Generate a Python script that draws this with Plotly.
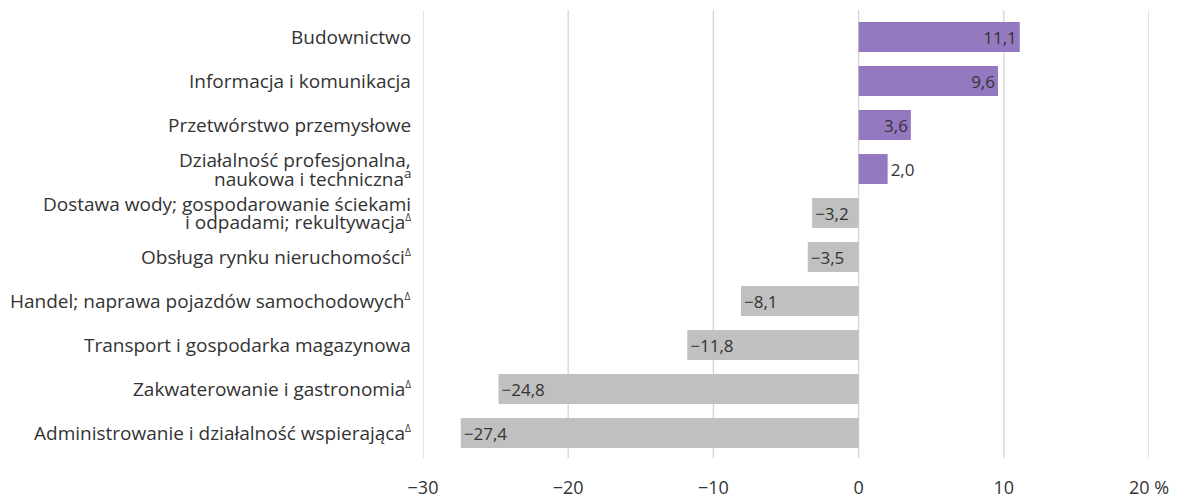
import plotly.graph_objects as go

DELTA = "<sup><span style='font-size:10px'>Δ</span></sup>"
categories = [
    "Budownictwo",
    "Informacja i komunikacja",
    "Przetwórstwo przemysłowe",
    "Działalność profesjonalna,<br>naukowa i techniczna<sup>a</sup>",
    "Dostawa wody; gospodarowanie ściekami<br>i odpadami; rekultywacja" + DELTA,
    "Obsługa rynku nieruchomości" + DELTA,
    "Handel; naprawa pojazdów samochodowych" + DELTA,
    "Transport i gospodarka magazynowa",
    "Zakwaterowanie i gastronomia" + DELTA,
    "Administrowanie i działalność wspierająca" + DELTA,
]
values = [11.1, 9.6, 3.6, 2.0, -3.2, -3.5, -8.1, -11.8, -24.8, -27.4]
tick_vals = [-30, -20, -10, 0, 10, 20]
tick_text = ["−30", "−20", "−10", "0", "10", "20 %"]

POS = "#9579C0"
NEG = "#C0C0C0"
GRID = "#D4D4D4"
TXT = "#333333"
FONT = "Open Sans"
FS = 19

colors = [POS if v >= 0 else NEG for v in values]
texts = [f"{v:.1f}".replace(".", ",").replace("-", "−") for v in values]
positions = ["outside" if abs(v) < 2.5 else "inside" for v in values]

fig = go.Figure()
fig.add_trace(go.Bar(
    x=values, y=list(range(len(categories))), orientation="h",
    marker=dict(color=colors, line=dict(width=0)),
    text=texts, textposition=positions, insidetextanchor="end",
    constraintext="none", cliponaxis=False,
    textfont=dict(family=FONT, size=17, color=TXT),
    outsidetextfont=dict(family=FONT, size=17, color=TXT),
    insidetextfont=dict(family=FONT, size=17, color=TXT),
    width=0.68,
))

for t in tick_vals:
    fig.add_shape(type="line", xref="x", yref="paper", x0=t, x1=t, y0=-0.007, y1=1.011,
                  line=dict(color=GRID, width=1.3), layer="below")

# category labels as annotations (tight line spacing for two-line labels)
for i, cat in enumerate(categories):
    lines = cat.split("<br>")
    n = len(lines)
    for j, line in enumerate(lines):
        shift = (n - 1) * 9 - j * 18
        fig.add_annotation(x=0, xref="paper", y=i, yref="y", text=line,
                           showarrow=False, xanchor="right", yanchor="middle",
                           xshift=-10, yshift=shift,
                           font=dict(family=FONT, size=FS, color=TXT))

fig.update_layout(
    width=1176, height=489,
    margin=dict(l=415, r=35, t=7, b=42),
    paper_bgcolor="white", plot_bgcolor="white",
    showlegend=False,
    font=dict(family=FONT, size=FS, color=TXT),
    xaxis=dict(range=[-30, 20], tickvals=tick_vals, ticktext=tick_text,
               showgrid=False, zeroline=False, ticks="", ticklabelstandoff=20,
               automargin=False,
               tickfont=dict(family=FONT, size=18, color=TXT)),
    yaxis=dict(range=[len(categories) - 0.5, -0.5], showgrid=False, zeroline=False,
               ticks="", showticklabels=False, automargin=False),
)

fig.write_html("out.html")
